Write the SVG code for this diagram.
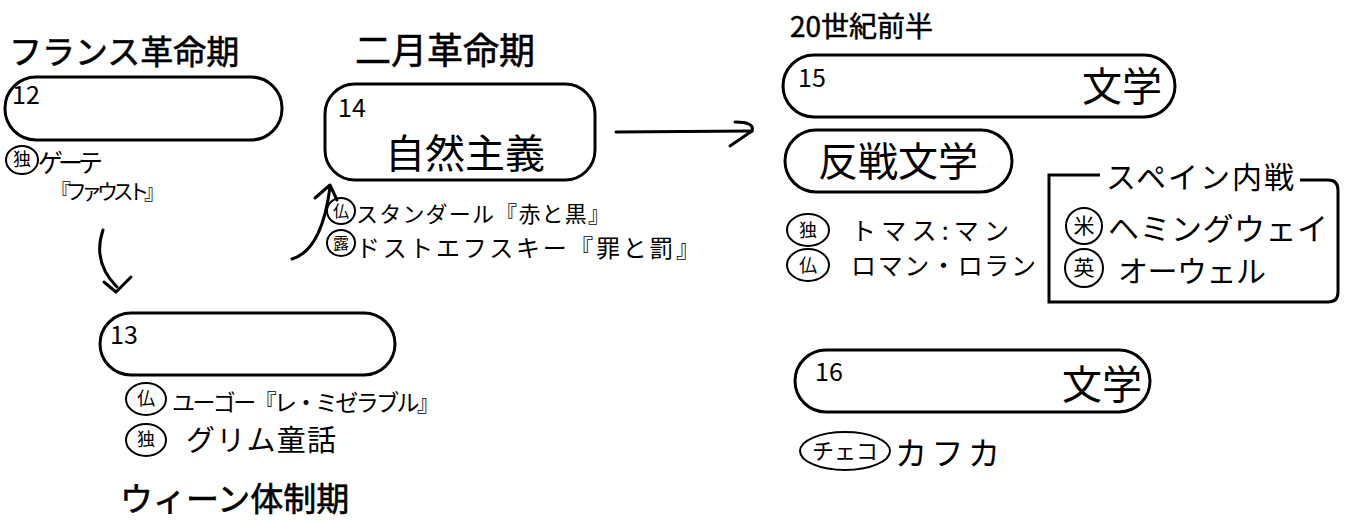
<svg xmlns="http://www.w3.org/2000/svg" width="1350" height="521" viewBox="0 0 1350 521">
<style>
text{font-family:"Noto Sans CJK JP","Noto Sans",sans-serif;fill:#000}
.h{font-size:33px}
.num{font-size:25px}
.big{font-size:40px}
.hand{font-size:25px}
.ch{font-size:18px}
.pill{fill:#fff;stroke:#000;stroke-width:3}
.ring{fill:none;stroke:#000;stroke-width:2}
.conn{fill:none;stroke:#000;stroke-width:3;stroke-linecap:round;stroke-linejoin:round}
</style>
<rect width="1350" height="521" fill="#fff"/>

<g id="headings">
<text class="h" x="9" y="64" stroke="#000" stroke-width="0.6">フランス革命期</text>
<text class="h" x="355" y="64" style="font-size:36px" stroke="#000" stroke-width="0.6">二月革命期</text>
<text x="790" y="37" style="font-size:28px" stroke="#000" stroke-width="0.5">20世紀前半</text>
<text class="h" x="120" y="511" stroke="#000" stroke-width="0.6">ウィーン体制期</text>
</g>

<g id="node12">
<rect class="pill" x="5" y="77" width="277" height="63" rx="31"/>
<text class="num" x="12" y="104">12</text>
<ellipse class="ring" cx="22" cy="160" rx="16" ry="14"/>
<text class="ch" x="22" y="166" text-anchor="middle">独</text>
<text class="hand" x="38" y="172" textLength="65">ゲーテ</text>
<text class="hand" x="50" y="199" textLength="115" style="font-size:21px">『ファウスト』</text>
</g>

<g id="node13">
<rect class="pill" x="100" y="313" width="295" height="62" rx="31"/>
<text class="num" x="110" y="344">13</text>
<ellipse class="ring" cx="146" cy="399" rx="20" ry="16"/>
<text class="ch" x="146" y="405" text-anchor="middle">仏</text>
<text class="hand" x="172" y="411" textLength="268" style="font-size:23px">ユーゴー『レ・ミゼラブル』</text>
<ellipse class="ring" cx="146" cy="440" rx="20" ry="16"/>
<text class="ch" x="146" y="446" text-anchor="middle">独</text>
<text class="hand" x="186" y="451" textLength="150" style="font-size:29px">グリム童話</text>
</g>

<g id="node14">
<rect class="pill" x="325" y="84" width="270" height="96" rx="30"/>
<text class="num" x="338" y="117">14</text>
<text class="big" x="465" y="168" text-anchor="middle">自然主義</text>
<ellipse class="ring" cx="341" cy="211" rx="14" ry="13"/>
<text class="ch" x="341" y="217" text-anchor="middle" style="font-size:16px">仏</text>
<text class="hand" x="356" y="222" textLength="254" style="font-size:22px">スタンダール『赤と黒』</text>
<ellipse class="ring" cx="341" cy="243" rx="14" ry="13"/>
<text class="ch" x="341" y="249" text-anchor="middle" style="font-size:16px">露</text>
<text class="hand" x="356" y="257" textLength="344" style="font-size:24px">ドストエフスキー『罪と罰』</text>
</g>

<g id="node15">
<rect class="pill" x="783" y="55" width="392" height="62" rx="31"/>
<text class="num" x="798" y="87">15</text>
<text class="big" x="1162" y="101" text-anchor="end">文学</text>
<rect class="pill" x="785" y="130" width="227" height="62" rx="31"/>
<text x="898" y="176" text-anchor="middle" style="font-size:40px">反戦文学</text>
<ellipse class="ring" cx="808" cy="230" rx="21" ry="16"/>
<text class="ch" x="808" y="237" text-anchor="middle">独</text>
<text class="hand" x="851" y="240" textLength="158">トマス:マン</text>
<ellipse class="ring" cx="808" cy="265" rx="21" ry="16"/>
<text class="ch" x="808" y="272" text-anchor="middle">仏</text>
<text class="hand" x="851" y="275" textLength="185">ロマン・ロラン</text>
</g>

<g id="spain">
<path d="M1100 175 H1049 V302 H1328 Q1338 302 1338 292 V190 Q1338 180 1328 180 H1300" fill="none" stroke="#000" stroke-width="3"/>
<text class="hand" x="1106" y="188" textLength="188" style="font-size:30px">スペイン内戦</text>
<circle class="ring" cx="1084" cy="226" r="18"/>
<text x="1084" y="233" text-anchor="middle" style="font-size:21px">米</text>
<text class="hand" x="1108" y="240" textLength="220" style="font-size:31px">ヘミングウェイ</text>
<circle class="ring" cx="1084" cy="268" r="19"/>
<text x="1084" y="275" text-anchor="middle" style="font-size:21px">英</text>
<text class="hand" x="1118" y="282" textLength="148" style="font-size:30px">オーウェル</text>
</g>

<g id="node16">
<rect class="pill" x="795" y="350" width="355" height="62" rx="31"/>
<text class="num" x="815" y="381">16</text>
<text class="big" x="1142" y="399" text-anchor="end">文学</text>
<ellipse class="ring" cx="845" cy="451" rx="45" ry="19"/>
<text x="845" y="459" text-anchor="middle" style="font-size:22px">チェコ</text>
<text class="hand" x="895" y="465" textLength="105" style="font-size:32px">カフカ</text>
</g>

<g id="connectors">
<path class="conn" d="M103 230 Q92 262 117 287"/>
<path class="conn" d="M104 282 L116 292 L131 277"/>
<path class="conn" d="M292 259 Q322 250 330 187"/>
<path class="conn" d="M315 198 L330 185 L337 200"/>
<path class="conn" d="M616 132 L752 131"/>
<path class="conn" d="M735 122 Q755 122 752 131 L730 146"/>
</g>
</svg>
